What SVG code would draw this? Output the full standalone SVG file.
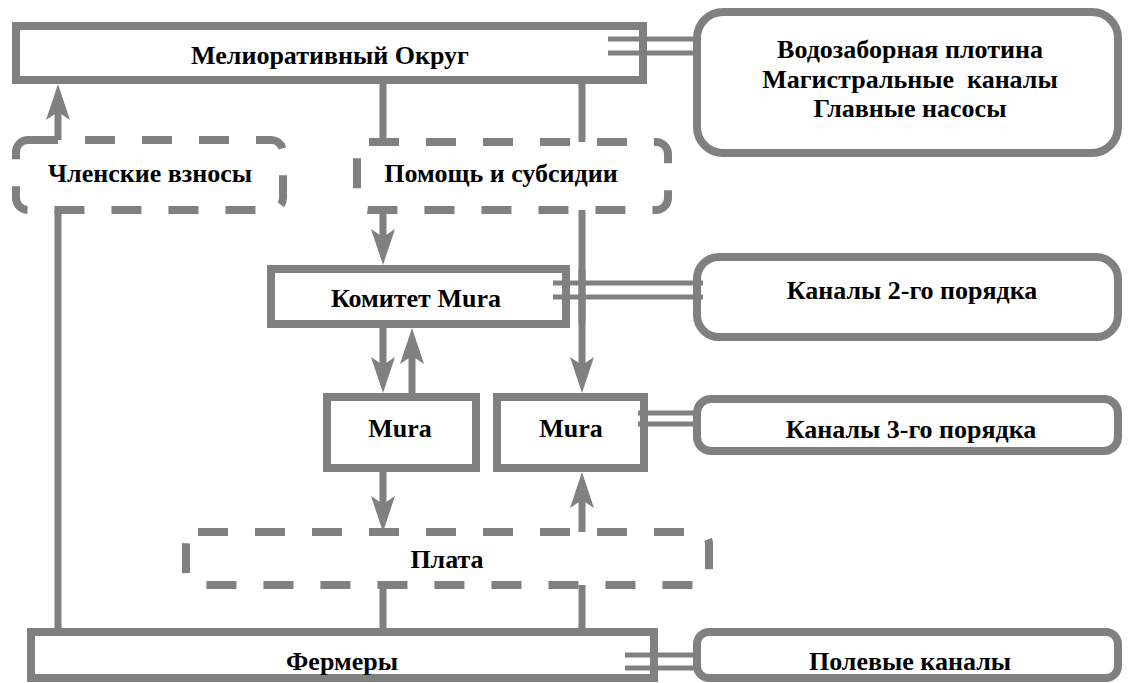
<svg xmlns="http://www.w3.org/2000/svg" width="1128" height="683" viewBox="0 0 1128 683">
<style>
.box{fill:#fff;stroke:#808080;stroke-width:8}
.dash{fill:none;stroke:#808080;stroke-width:8;stroke-dasharray:30 27}
.ln{fill:none;stroke:#808080;stroke-width:7}
.dbl{fill:none;stroke:#808080;stroke-width:5}
text{font-family:"Liberation Serif","Times New Roman",serif;font-weight:bold;font-size:26px;text-anchor:middle;fill:#000}
</style>
<defs>
<marker id="arr" markerUnits="userSpaceOnUse" viewBox="0 0 36 24" refX="8" refY="12" markerWidth="36" markerHeight="24" orient="auto">
<path d="M0,0 L36,12 L0,24 L8,12 Z" fill="#808080"/>
</marker>
</defs>
<rect width="1128" height="683" fill="#fff"/>
<g id="connectors">
<path class="ln" d="M58,140 V112" marker-end="url(#arr)"/>
<path class="ln" d="M58,628 V210"/>
<path class="ln" d="M383,84 V142"/>
<path class="ln" d="M582,84 V142"/>
<path class="ln" d="M383,210 V237" marker-end="url(#arr)"/>
<path class="ln" d="M582,210 V365" marker-end="url(#arr)"/>
<path class="ln" d="M383,328 V365" marker-end="url(#arr)"/>
<path class="ln" d="M412,393 V356" marker-end="url(#arr)"/>
<path class="ln" d="M383,472 V504" marker-end="url(#arr)"/>
<path class="ln" d="M582,532 V500" marker-end="url(#arr)"/>
<path class="ln" d="M383,585 V628"/>
<path class="ln" d="M582,585 V628"/>
</g>
<g id="n-okrug">
<rect class="box" x="16" y="26" width="627" height="54"/>
<text x="330" y="64">Мелиоративный Округ</text>
</g>
<g id="n-main">
<rect class="box" x="697" y="12" width="421" height="141" rx="26"/>
<text x="910" y="58">Водозаборная плотина</text>
<text x="910" y="88" xml:space="preserve">Магистральные  каналы</text>
<text x="910" y="117">Главные насосы</text>
</g>
<g id="n-vznosy">
<rect class="dash" x="16" y="140" width="267" height="70" rx="12"/>
<text x="150" y="182">Членские взносы</text>
</g>
<g id="n-pomosh">
<rect class="dash" x="357" y="142" width="311" height="68" rx="12"/>
<text x="501" y="182">Помощь и субсидии</text>
</g>
<g id="n-komitet">
<rect class="box" x="271" y="269" width="295" height="55"/>
<text x="416" y="307">Комитет Mura</text>
</g>
<g id="n-kan2">
<rect class="box" x="697" y="257" width="421" height="80" rx="22"/>
<text x="912" y="299">Каналы 2-го порядка</text>
</g>
<g id="n-mura1">
<rect class="box" x="327" y="397" width="149" height="71"/>
<text x="400" y="437">Mura</text>
</g>
<g id="n-mura2">
<rect class="box" x="497" y="397" width="147" height="71"/>
<text x="571" y="437">Mura</text>
</g>
<g id="n-kan3">
<rect class="box" x="697" y="399" width="421" height="52" rx="14"/>
<text x="911" y="438">Каналы 3-го порядка</text>
</g>
<g id="n-plata">
<rect class="dash" x="186" y="532" width="523" height="53" rx="12"/>
<text x="447" y="568">Плата</text>
</g>
<g id="n-fermery">
<rect class="box" x="31" y="632" width="623" height="46"/>
<text x="342" y="670">Фермеры</text>
</g>
<g id="n-polevye">
<rect class="box" x="697" y="632" width="421" height="46" rx="12"/>
<text x="910" y="670">Полевые каналы</text>
</g>
<g id="links">
<path class="dbl" d="M608,39 H701 M608,53 H701"/>
<path class="dbl" d="M553,283 H703 M553,297 H703"/>
<path class="ln" d="M582,269 V324"/>
<path class="dbl" d="M638,413 H701 M638,424 H701"/>
<path class="dbl" d="M625,655 H701 M625,668 H701"/>
</g>
</svg>
